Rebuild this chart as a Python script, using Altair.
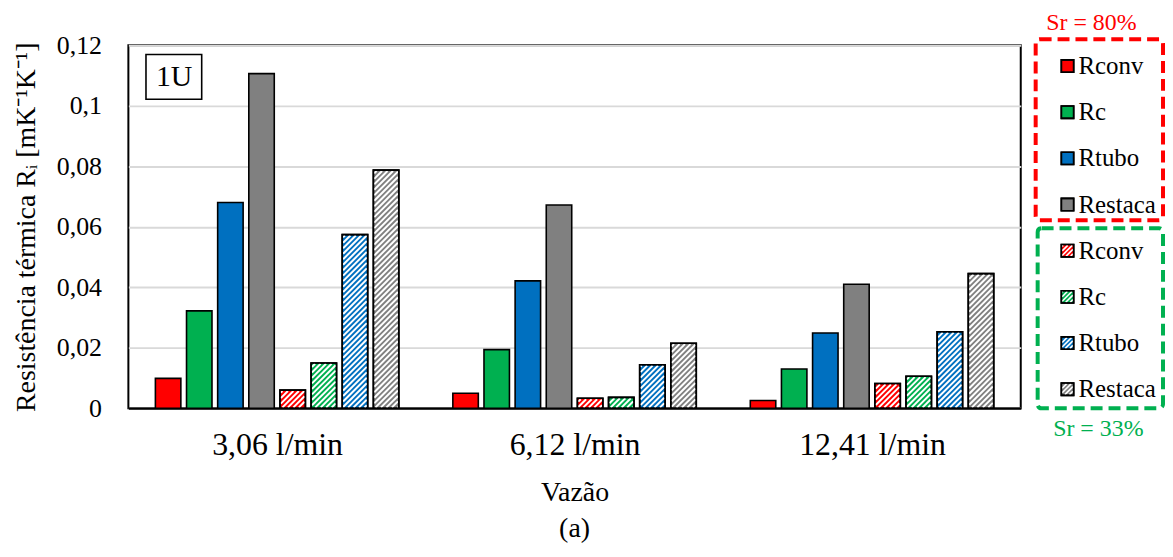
import json
import math
import altair as alt
import pandas as pd

# ---------------- data ----------------
categories = ["3,06 l/min", "6,12 l/min", "12,41 l/min"]
components = ["Rconv", "Rc", "Rtubo", "Restaca"]
colors = ["#FF0000", "#00B050", "#0070C0", "#808080"]

sr80_rconv = [0.0099, 0.0050, 0.0026]
sr80_rc = [0.0322, 0.0194, 0.0130]
sr80_rtubo = [0.0680, 0.0421, 0.0249]
sr80_restaca = [0.1106, 0.0672, 0.0410]

sr33_rconv = [0.0060, 0.0033, 0.0082]
sr33_rc = [0.0150, 0.0036, 0.0106]
sr33_rtubo = [0.0574, 0.0144, 0.0253]
sr33_restaca = [0.0787, 0.0215, 0.0445]

y_ticks = [0, 0.02, 0.04, 0.06, 0.08, 0.10, 0.12]
series_labels = ["Sr = 80%", "Sr = 33%"]
series_colors = ["#FF0000", "#00B050"]
panel_label = "1U"
x_title = "Vazão"
y_title = "Resistência térmica Rᵢ [mK⁻¹K⁻¹]"
caption = "(a)"

# ---------------- layout / style ----------------
W, H = 897, 365
YMAX = 0.12
KX = W / len(categories)      # px per x unit
KY = H / YMAX                 # px per y unit
STEP = 31.3 / KX
BAR_W = 25.6 / KX
HATCH_P = 5.5
HATCH_W = 2.0
FONT = "Liberation Serif"


def hatch_segments(X0, X1, Y0, Y1, p=HATCH_P):
    """diagonal '/' hatch lines clipped to a rectangle, y pointing up"""
    segs = []
    if X1 <= X0 or Y1 <= Y0:
        return segs
    k0 = math.floor((Y0 - X1) / p)
    k1 = math.ceil((Y1 - X0) / p)
    for k in range(k0, k1 + 1):
        c = k * p
        xs = max(X0, Y0 - c)
        xe = min(X1, Y1 - c)
        if xe - xs > 0.3:
            segs.append((xs, xs + c, xe, xe + c))
    return segs


sets = [
    [sr80_rconv, sr80_rc, sr80_rtubo, sr80_restaca],
    [sr33_rconv, sr33_rc, sr33_rtubo, sr33_restaca],
]
n_slots = len(sets) * len(components)

bar_rows, hatch_rows = [], []
for gi, cat in enumerate(categories):
    for si, vals in enumerate(sets):
        for ci, comp in enumerate(components):
            slot = si * len(components) + ci
            xc = gi + 0.5 + (slot - (n_slots - 1) / 2) * STEP
            v = vals[ci][gi]
            row = dict(categoria=cat, componente=comp, sr=series_labels[si],
                       color=colors[ci], xa=xc - BAR_W / 2, xb=xc + BAR_W / 2,
                       ya=v, yb=0.0, hatched=si == 1)
            bar_rows.append(row)
            if si == 1:
                ins = 0.9
                for (x1_, y1_, x2_, y2_) in hatch_segments(row["xa"] * KX + ins, row["xb"] * KX - ins,
                                                           ins, v * KY - ins):
                    hatch_rows.append(dict(xa=x1_ / KX, ya=y1_ / KY, xb=x2_ / KX, yb=y2_ / KY))

bars_df = pd.DataFrame(bar_rows)
hatched_df = bars_df[bars_df["hatched"]]
hatch_df = pd.DataFrame(hatch_rows)

xscale = alt.Scale(domain=[0, len(categories)], nice=False, zero=False)
yscale = alt.Scale(domain=[0, YMAX], nice=False, zero=True)

x_axis = alt.Axis(values=[i + 0.5 for i in range(len(categories))],
                  labelExpr=json.dumps(categories) + "[floor(datum.value)]",
                  grid=False, ticks=False, domain=True, domainColor="black", domainWidth=2,
                  labelFontSize=32, labelPadding=21, title=x_title, titleFontSize=28,
                  titlePadding=19)
y_axis = alt.Axis(values=y_ticks, labelExpr="replace(format(datum.value, '~g'), '.', ',')",
                  grid=True, gridColor="#d9d9d9", gridWidth=2, domain=False, ticks=False,
                  labelFontSize=26, labelPadding=27, title=y_title, titleFontSize=28,
                  titlePadding=16)

X_MAIN = alt.X("xa:Q", scale=xscale, axis=x_axis)
Y_MAIN = alt.Y("ya:Q", scale=yscale, axis=y_axis)

bars = alt.Chart(bars_df).mark_rect(stroke="black", strokeWidth=1.6).encode(
    x=X_MAIN, x2="xb:Q", y=Y_MAIN, y2="yb:Q",
    fill=alt.Fill("color:N", scale=None),
)
hatch = alt.Chart(hatch_df).mark_rule(color="white", strokeWidth=HATCH_W, strokeCap="butt").encode(
    x=X_MAIN, x2="xb:Q", y=Y_MAIN, y2="yb:Q",
)
outline = alt.Chart(hatched_df).mark_rect(fillOpacity=0, stroke="black", strokeWidth=1.6).encode(
    x=X_MAIN, x2="xb:Q", y=Y_MAIN, y2="yb:Q",
)
main = alt.layer(bars, hatch, outline)

# ---------------- legend & annotations (pixel scales relative to plot) ----------------
pxs = alt.Scale(domain=[0, W], nice=False, zero=False)
pys = alt.Scale(domain=[0, H], nice=False, zero=False, reverse=True)

LEG_X = 944
LEG_Y0 = 21
LEG_DY = 46.4
SQ = 12.4
LABEL_X = 955

leg_rows, leg_hatch = [], []
for si in range(len(sets)):
    for ci, comp in enumerate(components):
        i = si * len(components) + ci
        cy = LEG_Y0 + LEG_DY * i
        r = dict(label=comp, color=colors[ci], px0=LEG_X - SQ / 2, px1=LEG_X + SQ / 2,
                 py0=cy - SQ / 2, py1=cy + SQ / 2, cy=cy, lx=LABEL_X)
        leg_rows.append(r)
        if si == 1:
            ins = 0.8
            for (a, b, c, d) in hatch_segments(r["px0"] + ins, r["px1"] - ins,
                                               -r["py1"] + ins, -r["py0"] - ins, p=4.6):
                leg_hatch.append(dict(px0=a, py0=-b, px1=c, py1=-d))
leg_df = pd.DataFrame(leg_rows)
leg_hatch_df = pd.DataFrame(leg_hatch)

box_df = pd.DataFrame([
    dict(color=series_colors[0], px0=912, px1=1040, py0=-6, py1=176),
    dict(color=series_colors[1], px0=914, px1=1040, py0=184, py1=365),
])
sr_df = pd.DataFrame([
    dict(text=series_labels[0], color=series_colors[0], px=968, py=-22),
    dict(text=series_labels[1], color=series_colors[1], px=975, py=386),
])
panel_df = pd.DataFrame([dict(text=panel_label, px0=17.7, px1=73.7, py0=9.3, py1=54.3, px=46, py=32.5)])


def PX(f="px0"):
    return alt.X(f + ":Q", scale=pxs, axis=None)


def PY(f="py0"):
    return alt.Y(f + ":Q", scale=pys, axis=None)


boxes = alt.Chart(box_df).mark_rect(fillOpacity=0, strokeWidth=4, strokeDash=[12, 6], cornerRadius=4).encode(
    x=PX(), x2="px1:Q", y=PY(), y2="py1:Q", stroke=alt.Stroke("color:N", scale=None))
sq = alt.Chart(leg_df).mark_rect(stroke="black", strokeWidth=1.6).encode(
    x=PX(), x2="px1:Q", y=PY(), y2="py1:Q", fill=alt.Fill("color:N", scale=None))
sq_h = alt.Chart(leg_hatch_df).mark_rule(color="white", strokeWidth=1.6, strokeCap="butt").encode(
    x=PX(), x2="px1:Q", y=PY(), y2="py1:Q")
sq_o = alt.Chart(leg_df).mark_rect(fillOpacity=0, stroke="black", strokeWidth=1.6).encode(
    x=PX(), x2="px1:Q", y=PY(), y2="py1:Q")
labels = alt.Chart(leg_df).mark_text(font=FONT, fontSize=25, align="left", baseline="middle", color="black").encode(
    x=PX("lx"), y=PY("cy"), text="label:N")
sr_text = alt.Chart(sr_df).mark_text(font=FONT, fontSize=24, align="center", baseline="middle").encode(
    x=PX("px"), y=PY("py"), text="text:N", fill=alt.Fill("color:N", scale=None))
panel_box = alt.Chart(panel_df).mark_rect(fill="white", stroke="black", strokeWidth=1.6).encode(
    x=PX(), x2="px1:Q", y=PY(), y2="py1:Q")
panel_text = alt.Chart(panel_df).mark_text(font=FONT, fontSize=30, align="center", baseline="middle", color="black").encode(
    x=PX("px"), y=PY("py"), text="text:N")

legend = alt.layer(boxes, sq, sq_h, sq_o, labels, sr_text, panel_box, panel_text)

chart = alt.layer(main, legend).resolve_scale(x="independent", y="independent").properties(
    width=W, height=H,
    autosize=alt.AutoSizeParams(type="none"),
    padding={"left": 121, "top": 36, "right": 145, "bottom": 134},
    title=alt.TitleParams(caption, orient="bottom", anchor="middle", fontSize=28, font=FONT,
                          fontWeight="normal", color="black", offset=8),
).configure_view(stroke="black", strokeWidth=2).configure_axis(
    labelFont=FONT, titleFont=FONT, labelColor="black", titleColor="black", titleFontWeight="normal"
)

chart.save("out.html", embed_options={"renderer": "svg", "actions": False})
